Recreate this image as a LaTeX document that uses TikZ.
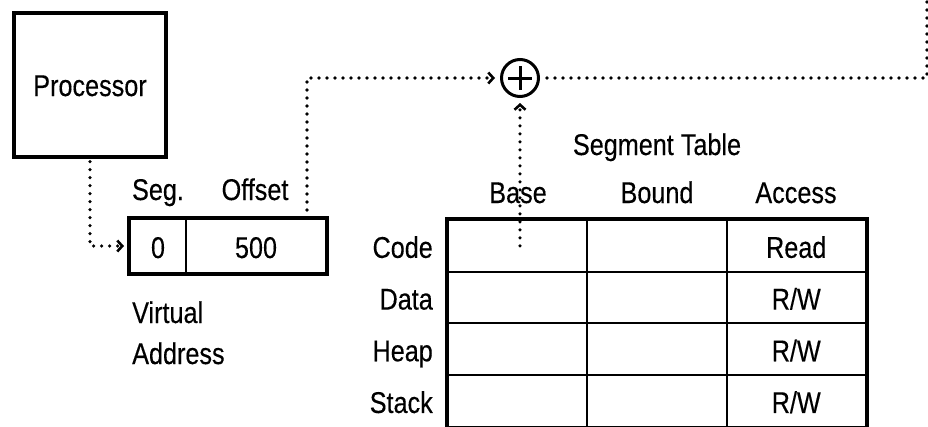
\documentclass[tikz,border=0pt]{standalone}
\usepackage{fontspec}
\setmainfont[FakeStretch=0.84,FakeBold=0.3]{Liberation Sans}
\usetikzlibrary{arrows.meta}
\begin{document}
\begin{tikzpicture}[x=1pt,y=-1pt,
  every node/.style={font=\fontsize{30}{36}\selectfont, inner sep=0pt},
  procbox/.style={draw, line width=3.2pt, minimum width=152pt, minimum height=144pt, text height=22pt, text depth=0pt},
  cell/.style={draw, line width=2pt, minimum width=139.3pt, minimum height=51.7pt, text height=24pt, text depth=0pt},
  vcell/.style={draw, line width=2pt, minimum height=54pt, text height=24pt, text depth=0pt},
  lbl/.style={anchor=base},
  dots/.style={line width=3.6pt, line cap=round, dash pattern=on 0pt off 8pt},
  tipped/.style={-{Straight Barb[length=5pt,width=11pt,line width=2.6pt]}, shorten >=5pt}
]
\useasboundingbox (0,0) rectangle (928,426);
\clip (0,0) rectangle (928,426);

% Processor
\node[procbox] (proc) at (90,85) {Processor};

% Virtual address
\node[vcell, minimum width=56pt] (seg) at (158,246) {0};
\node[vcell, minimum width=140pt] (off) at (256,246) {500};
\draw[line width=3.2pt] (seg.north west) rectangle (off.south east);
\node[lbl] (seglbl) at (158,200) {Seg.};
\node[lbl] (offlbl) at (255,200) {Offset};
\node[anchor=base west] (virt) at (132,323) {Virtual};
\node[anchor=base west] (addr) at (132,364) {Address};

% Adder
\node[circle, draw, line width=3pt, minimum size=37pt] (plus) at (520,78) {};
\draw[line width=3pt] (plus.center) ++(-12,0) -- ++(24,0);
\draw[line width=3pt] (plus.center) ++(0,-12) -- ++(0,24);

% Segment table
\node[lbl] (title) at (657,155) {Segment Table};
\node[lbl] (hbase) at (518,203) {Base};
\node[lbl] (hbound) at (657,203) {Bound};
\node[lbl] (haccess) at (796,203) {Access};

\foreach \r/\name/\acc in {1/Code/Read, 2/Data/R\slash W, 3/Heap/R\slash W, 4/Stack/R\slash W}{
  \pgfmathsetmacro{\yc}{220+51.7*(\r-0.5)}
  \node[cell] (c\r1) at (517.65,\yc) {};
  \node[cell] (c\r2) at (656.95,\yc) {};
  \node[cell] (c\r3) at (796.25,\yc) {\acc};
  \node[anchor=base east] (l\r) at (433,\yc+12) {\name};
}
\draw[line width=3.2pt] (c11.north west) rectangle (c43.south east);

% Connectors
\coordinate (exit) at (927,-5);
\draw[dots, tipped, shorten <=3pt] (proc.south) |- (seg.west);
\draw[dots, tipped] ([xshift=-20pt]off.north east) |- (plus.west);
\draw[dots, tipped] (plus |- c11.center) -- (plus.south);
\draw[dots, shorten <=7pt] (plus.east) -| (exit);
\end{tikzpicture}
\end{document}
